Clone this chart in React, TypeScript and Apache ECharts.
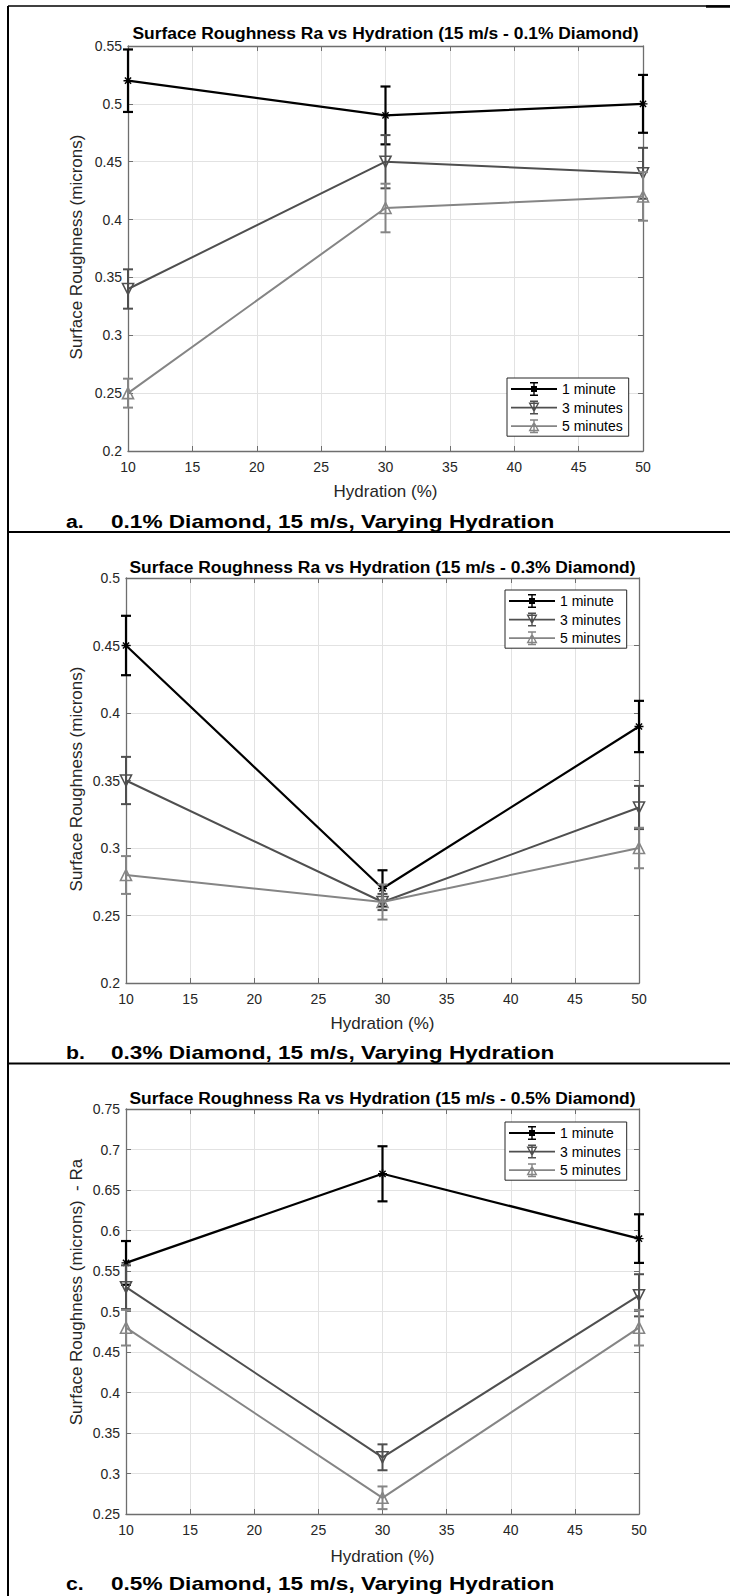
import React, { useEffect, useRef } from "react";
import * as echarts from "echarts";

// ---------- data ----------
const hydration = [10, 30, 50];
const seriesNames = ["1 minute", "3 minutes", "5 minutes"];

// a. 0.1% Diamond
const a1Min = [0.52, 0.49, 0.5];
const a1Err = [0.027, 0.025, 0.025];
const a3Min = [0.34, 0.45, 0.44];
const a3Err = [0.017, 0.023, 0.022];
const a5Min = [0.25, 0.41, 0.42];
const a5Err = [0.0125, 0.021, 0.021];

// b. 0.3% Diamond
const b1Min = [0.45, 0.27, 0.39];
const b1Err = [0.022, 0.0135, 0.019];
const b3Min = [0.35, 0.26, 0.33];
const b3Err = [0.0175, 0.006, 0.016];
const b5Min = [0.28, 0.26, 0.3];
const b5Err = [0.014, 0.013, 0.015];

// c. 0.5% Diamond
const c1Min = [0.56, 0.67, 0.59];
const c1Err = [0.027, 0.034, 0.03];
const c3Min = [0.53, 0.32, 0.52];
const c3Err = [0.027, 0.016, 0.026];
const c5Min = [0.48, 0.27, 0.48];
const c5Err = [0.022, 0.014, 0.022];

const panelTitles = [
  "Surface Roughness Ra vs Hydration (15 m/s - 0.1% Diamond)",
  "Surface Roughness Ra vs Hydration (15 m/s - 0.3% Diamond)",
  "Surface Roughness Ra vs Hydration (15 m/s - 0.5% Diamond)",
];
const yAxisNames = [
  "Surface Roughness (microns)",
  "Surface Roughness (microns)",
  "Surface Roughness (microns)  - Ra",
];
const xAxisName = "Hydration (%)";
const captionLetters = ["a.", "b.", "c."];
const captionTexts = [
  "0.1% Diamond, 15 m/s, Varying Hydration",
  "0.3% Diamond, 15 m/s, Varying Hydration",
  "0.5% Diamond, 15 m/s, Varying Hydration",
];
const yMins = [0.2, 0.2, 0.25];
const yMaxs = [0.55, 0.5, 0.75];
const yStep = 0.05;
const xMin = 10;
const xMax = 50;
const xStep = 5;

const panelValues = [
  [a1Min, a3Min, a5Min],
  [b1Min, b3Min, b5Min],
  [c1Min, c3Min, c5Min],
];
const panelErrors = [
  [a1Err, a3Err, a5Err],
  [b1Err, b3Err, b5Err],
  [c1Err, c3Err, c5Err],
];

// ---------- layout / style ----------
const layouts = [
  { left: 128, top: 46, width: 515, height: 405, titleY: 33, xNameY: 491, yNameY: 247, capY: 521, legendTop: 378, legendLeft: 507 },
  { left: 126, top: 578, width: 513, height: 405, titleY: 567, xNameY: 1023, yNameY: 779, capY: 1052, legendTop: 590, legendLeft: 505 },
  { left: 126, top: 1109, width: 513, height: 405, titleY: 1098, xNameY: 1556, yNameY: 1292, capY: 1583, legendTop: 1122, legendLeft: 505 },
];
const COLORS = ["#000000", "#4f4f4f", "#858585"];
const FONT = "'Liberation Sans', Arial, Helvetica, sans-serif";
const AXIS_COLOR = "#6e6e6e";
const GRID_COLOR = "#e2e2e2";
const STAR =
  "path://M4.2,0H5.8V10H4.2Z M0,4.2H10V5.8H0Z M1,2.1L2.1,1L9,7.9L7.9,9Z M7.9,1L9,2.1L2.1,9L1,7.9Z";
const SYMBOLS = [STAR, "triangle", "triangle"];
const SYMBOL_ROT = [0, 180, 0];
const SYMBOL_SIZE = [9, 11, 11];

// legend icons: line + error bar + marker (46 x 14 box)
const ICON_BASE =
  "M0,6.1H46V7.9H0Z M22.3,0H23.7V14H22.3Z M19,0H27V1.5H19Z M19,12.5H27V14H19Z";
const LEGEND_ICONS = [
  "path://" + ICON_BASE + " M20,4H26V10H20Z",
  "path://" + ICON_BASE + " M17.5,2L28.5,2L23,12Z M19.87,3.4L23,9.09L26.13,3.4Z",
  "path://" + ICON_BASE + " M23,2L28.5,12L17.5,12Z M23,4.91L19.87,10.6L26.13,10.6Z",
];

function buildOption() {
  const grid: any[] = [];
  const xAxis: any[] = [];
  const yAxis: any[] = [];
  const series: any[] = [];
  const legend: any[] = [];
  const graphic: any[] = [];

  const axisLine = { show: true, onZero: false, lineStyle: { color: AXIS_COLOR, width: 1.3 } };
  const axisTick = { show: true, inside: true, length: 5, lineStyle: { color: AXIS_COLOR, width: 1 } };
  const labelStyle = { color: "#262626", fontSize: 14, fontFamily: FONT };

  layouts.forEach((l, i) => {
    grid.push({ left: l.left, top: l.top, width: l.width, height: l.height, containLabel: false });
    xAxis.push({
      gridIndex: i, type: "value", min: xMin, max: xMax, interval: xStep, position: "bottom",
      axisLine, axisTick,
      axisLabel: { ...labelStyle, margin: 9 },
      splitLine: { show: true, lineStyle: { color: GRID_COLOR, width: 1 } },
    });
    xAxis.push({
      gridIndex: i, type: "value", min: xMin, max: xMax, interval: xStep, position: "top",
      axisLine, axisTick, axisLabel: { show: false }, splitLine: { show: false },
    });
    yAxis.push({
      gridIndex: i, type: "value", min: yMins[i], max: yMaxs[i], interval: yStep, position: "left",
      axisLine, axisTick,
      axisLabel: { ...labelStyle, margin: 6, formatter: (v: number) => String(parseFloat(v.toFixed(2))) },
      splitLine: { show: true, lineStyle: { color: GRID_COLOR, width: 1 } },
    });
    yAxis.push({
      gridIndex: i, type: "value", min: yMins[i], max: yMaxs[i], interval: yStep, position: "right",
      axisLine, axisTick, axisLabel: { show: false }, splitLine: { show: false },
    });

    seriesNames.forEach((name, j) => {
      const vals = panelValues[i][j];
      const errs = panelErrors[i][j];
      const color = COLORS[j];
      const lw = j === 0 ? 2.2 : 2;
      series.push({
        type: "custom",
        name: name + "-err-" + i,
        xAxisIndex: 2 * i,
        yAxisIndex: 2 * i,
        z: 3 + j * 2,
        silent: true,
        encode: { x: 0, y: [1, 2] },
        data: hydration.map((h, k) => [h, vals[k] - errs[k], vals[k] + errs[k]]),
        renderItem: (params: any, api: any) => {
          const x = api.value(0);
          const lo = api.coord([x, api.value(1)]);
          const hi = api.coord([x, api.value(2)]);
          const hw = 5;
          const style = { stroke: color, lineWidth: lw, fill: "none" };
          return {
            type: "group",
            children: [
              { type: "line", shape: { x1: lo[0], y1: lo[1], x2: hi[0], y2: hi[1] }, style },
              { type: "line", shape: { x1: lo[0] - hw, y1: lo[1], x2: lo[0] + hw, y2: lo[1] }, style },
              { type: "line", shape: { x1: hi[0] - hw, y1: hi[1], x2: hi[0] + hw, y2: hi[1] }, style },
            ],
          };
        },
      });
      series.push({
        type: "line",
        name,
        xAxisIndex: 2 * i,
        yAxisIndex: 2 * i,
        z: 4 + j * 2,
        data: hydration.map((h, k) => [h, vals[k]]),
        symbol: SYMBOLS[j],
        symbolRotate: SYMBOL_ROT[j],
        symbolSize: SYMBOL_SIZE[j],
        showSymbol: true,
        lineStyle: { color, width: lw },
        itemStyle:
          j === 0
            ? { color, borderColor: color, borderWidth: 0 }
            : { color: "rgba(255,255,255,0)", borderColor: color, borderWidth: 1.6 },
      });
    });

    legend.push({
      data: seriesNames.map((name, j) => ({
        name,
        icon: LEGEND_ICONS[j],
        itemStyle: { color: COLORS[j], borderWidth: 0, borderColor: COLORS[j] },
      })),
      orient: "vertical",
      left: l.legendLeft,
      top: l.legendTop,
      itemWidth: 46,
      itemHeight: 14,
      itemGap: 4.6,
      padding: [4, 6, 3, 4],
      backgroundColor: "#ffffff",
      borderColor: "#262626",
      borderWidth: 1,
      borderRadius: 0,
      selectedMode: false,
      textStyle: { color: "#000", fontSize: 14, fontFamily: FONT },
    });

    const cx = l.left + l.width / 2;
    graphic.push({
      type: "text", x: cx, y: l.titleY, scaleX: 1.025,
      style: { text: panelTitles[i], fill: "#000", font: `bold 17px ${FONT}`, align: "center", verticalAlign: "middle" },
    });
    graphic.push({
      type: "text", x: cx, y: l.xNameY,
      style: { text: xAxisName, fill: "#262626", font: `17px ${FONT}`, align: "center", verticalAlign: "middle" },
    });
    graphic.push({
      type: "text", x: 76, y: l.yNameY, rotation: Math.PI / 2,
      style: { text: yAxisNames[i], fill: "#262626", font: `17px ${FONT}`, align: "center", verticalAlign: "middle" },
    });
    graphic.push({
      type: "text", x: 66, y: l.capY, scaleX: 1.12,
      style: { text: captionLetters[i], fill: "#000", font: `bold 19px ${FONT}`, align: "left", verticalAlign: "middle" },
    });
    graphic.push({
      type: "text", x: 111, y: l.capY, scaleX: 1.19,
      style: { text: captionTexts[i], fill: "#000", font: `bold 19px ${FONT}`, align: "left", verticalAlign: "middle" },
    });
  });

  // table borders
  graphic.push({ type: "line", shape: { x1: 8, y1: 6, x2: 8, y2: 1596 }, style: { stroke: "#000", lineWidth: 2 } });
  graphic.push({ type: "line", shape: { x1: 8, y1: 6, x2: 730, y2: 6 }, style: { stroke: "#000", lineWidth: 1.5 } });
  graphic.push({ type: "line", shape: { x1: 706, y1: 6.5, x2: 730, y2: 6.5 }, style: { stroke: "#000", lineWidth: 2.5 } });
  graphic.push({ type: "line", shape: { x1: 8, y1: 532, x2: 730, y2: 532 }, style: { stroke: "#000", lineWidth: 2 } });
  graphic.push({ type: "line", shape: { x1: 8, y1: 1063.5, x2: 730, y2: 1063.5 }, style: { stroke: "#000", lineWidth: 2 } });

  return {
    animation: false,
    backgroundColor: "#ffffff",
    grid,
    xAxis,
    yAxis,
    legend,
    series,
    graphic,
  };
}

export default function App() {
  const ref = useRef<HTMLDivElement>(null);
  useEffect(() => {
    if (!ref.current) return;
    const chart = echarts.init(ref.current, undefined, { renderer: "svg" });
    chart.setOption(buildOption() as any);
    return () => chart.dispose();
  }, []);
  return (
    <div
      ref={ref}
      style={{ position: "absolute", left: 0, top: 0, width: 730, height: 1596, background: "#fff" }}
    />
  );
}
